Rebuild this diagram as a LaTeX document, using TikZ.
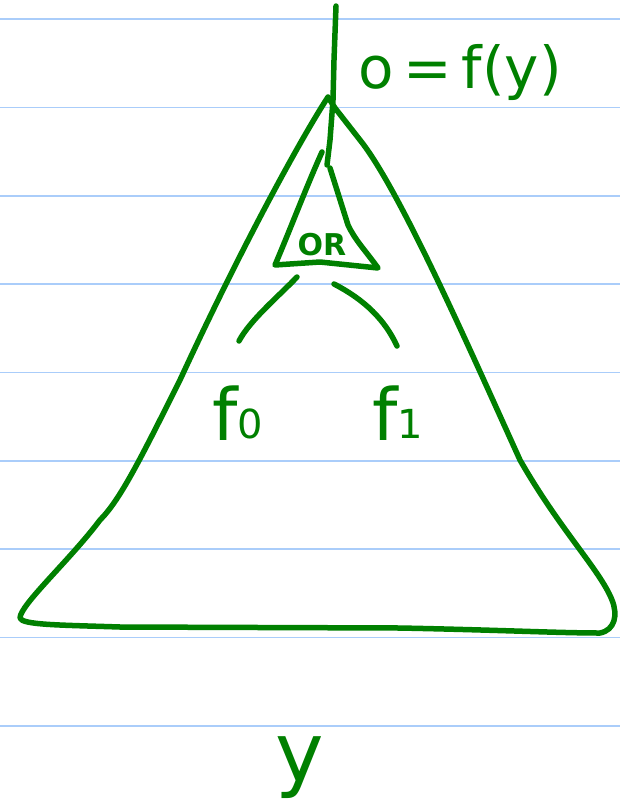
\documentclass[tikz,border=0pt]{standalone}
\usepackage{fontspec}
\setmainfont{DejaVu Sans}
\definecolor{ink}{RGB}{0,128,0}
\definecolor{rule}{RGB}{170,205,250}
\begin{document}
\begin{tikzpicture}[x=1pt,y=-1pt,
  pen/.style={draw=ink,line width=5.5pt,line cap=round,line join=round},
  hand/.style={text=ink,inner sep=0pt}]
\useasboundingbox (0,0) rectangle (620,809);
\fill[white] (0,0) rectangle (620,809);
\foreach \yy in {19,107.5,196,284,372.5,461,549,637.5,726}
  \draw[rule,line width=1.5pt] (0,\yy) -- (620,\yy);
% big triangle
\draw[pen] (336,6) -- (334,60) -- (333,100) -- (330,140) -- (327,165);
\draw[pen] (328,97) .. controls (300,140) and (240,250) .. (180,380)
  .. controls (140,460) and (120,500) .. (100,520)
  .. controls (70,560) and (20,605) .. (20,618)
  .. controls (22,625) and (60,625) .. (120,627)
  -- (400,628) .. controls (500,630) and (560,633) .. (600,633)
  .. controls (615,630) and (618,615) .. (612,600)
  .. controls (600,570) and (560,530) .. (520,460)
  .. controls (470,350) and (400,190) .. (360,140)
  -- (335,108) -- (328,97);
% small triangle
\draw[pen] (322,152) .. controls (305,190) and (290,230) .. (275,265)
  -- (320,262) -- (378,268) .. controls (365,250) and (355,240) .. (348,225)
  -- (330,168);
\node[hand,font=\fontsize{30}{30}\selectfont\bfseries] (or) at (322,245) {OR};
% branches
\draw[pen] (297,277) .. controls (280,295) and (250,320) .. (239,341);
\draw[pen] (334,284) .. controls (365,300) and (385,320) .. (397,346);
\node[hand,font=\fontsize{58}{58}\selectfont] (out) at (460,72) {o\,=\,f(y)};
\node[hand,font=\fontsize{72}{72}\selectfont,anchor=base] (f0) at (238,440) {f\raisebox{2pt}{\fontsize{40}{40}\selectfont 0}};
\node[hand,font=\fontsize{72}{72}\selectfont,anchor=base] (f1) at (398,440) {f\raisebox{2pt}{\fontsize{40}{40}\selectfont 1}};
\node[hand,font=\fontsize{82}{82}\selectfont] (y) at (300,768) {y};
\end{tikzpicture}
\end{document}
